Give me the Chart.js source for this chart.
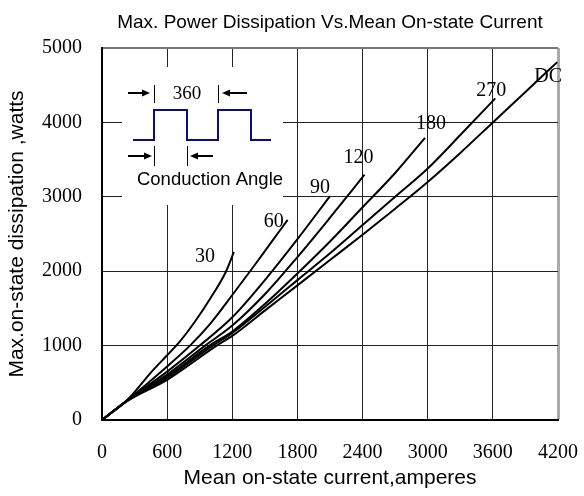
<!DOCTYPE html>
<html>
<head>
<meta charset="utf-8">
<script src="https://cdn.jsdelivr.net/npm/chart.js@4.4.0/dist/chart.umd.min.js"></script>
<style>
    html, body { margin: 0; padding: 0; background: #fff; }
</style>
</head>
<body>
<canvas id="powerChart" width="584" height="496"></canvas>
<script>
// 標題與座標軸文字
const chartTitle = 'Max. Power Dissipation Vs.Mean On-state Current';
const xTitle = 'Mean on-state current,amperes';
const yTitle = 'Max.on-state dissipation ,watts';

// 刻度
const xTicks = [0, 600, 1200, 1800, 2400, 3000, 3600, 4200];
const yTicks = [0, 1000, 2000, 3000, 4000, 5000];

// 各導通角的曲線 (電流 A, 功率 W)
const curveNames = ['30', '60', '90', '120', '180', '270', 'DC'];
const current30 = [0, 230, 470, 600, 720, 860, 1000, 1140, 1215];
const power30 = [0, 265, 670, 870, 1060, 1330, 1640, 1990, 2260];
const current60 = [0, 230, 600, 810, 1000, 1200, 1400, 1550, 1710];
const power60 = [0, 262, 720, 1000, 1300, 1680, 2070, 2370, 2690];
const current90 = [0, 230, 600, 900, 1200, 1500, 1800, 2100];
const power90 = [0, 260, 650, 1000, 1380, 1880, 2430, 3010];
const current120 = [0, 230, 600, 950, 1200, 1500, 1800, 2100, 2418];
const power120 = [0, 258, 610, 1000, 1270, 1690, 2190, 2720, 3297];
const current180 = [0, 230, 600, 990, 1200, 1500, 1800, 2100, 2400, 2700, 2975];
const power180 = [0, 256, 585, 1000, 1190, 1560, 1970, 2400, 2860, 3320, 3792];
const current270 = [0, 230, 600, 1020, 1200, 1500, 1800, 2100, 2400, 2700, 3000, 3300, 3622];
const power270 = [0, 255, 565, 1000, 1170, 1520, 1880, 2240, 2620, 3000, 3380, 3830, 4323];
const currentDC = [0, 230, 600, 1056, 1200, 1500, 1800, 2100, 2400, 2700, 3000, 3300, 3600, 3900, 4193];
const powerDC = [0, 254, 540, 1000, 1130, 1470, 1810, 2150, 2490, 2840, 3200, 3590, 4000, 4410, 4810];

const currents = [current30, current60, current90, current120, current180, current270, currentDC];
const powers = [power30, power60, power90, power120, power180, power270, powerDC];

// 曲線標籤相對終點的位移 (px)
const labelOffsets = [[-29, 5], [-14, 2], [-10, -8], [-6, -17], [6, -14], [-4, -8], [-9, 15]];

const serif = '"Liberation Serif", "Times New Roman", serif';
const sans = '"Liberation Sans", Arial, sans-serif';

function arrow(ctx, x1, y, x2) {
    const dir = x2 > x1 ? 1 : -1;
    ctx.beginPath();
    ctx.moveTo(x1, y);
    ctx.lineTo(x2 - dir * 6, y);
    ctx.stroke();
    ctx.beginPath();
    ctx.moveTo(x2, y);
    ctx.lineTo(x2 - dir * 8, y - 3.5);
    ctx.lineTo(x2 - dir * 8, y + 3.5);
    ctx.closePath();
    ctx.fill();
}

// 插圖、曲線標籤與標題
const decorPlugin = {
    id: 'decor',
    beforeDatasetsDraw(chart) {
        const { ctx, chartArea: a } = chart;
        const L = a.left, T = a.top;
        ctx.save();
        ctx.fillStyle = '#fff';
        ctx.fillRect(L + 20, T + 19, 161, 138);

        // 方波
        ctx.strokeStyle = '#0a0a8c';
        ctx.lineWidth = 2;
        ctx.beginPath();
        ctx.moveTo(L + 31, T + 92);
        ctx.lineTo(L + 52, T + 92);
        ctx.lineTo(L + 52, T + 62);
        ctx.lineTo(L + 85, T + 62);
        ctx.lineTo(L + 85, T + 92);
        ctx.lineTo(L + 116, T + 92);
        ctx.lineTo(L + 116, T + 62);
        ctx.lineTo(L + 149, T + 62);
        ctx.lineTo(L + 149, T + 92);
        ctx.lineTo(L + 169, T + 92);
        ctx.stroke();

        // 標記線與箭頭
        ctx.strokeStyle = '#000';
        ctx.fillStyle = '#000';
        ctx.lineWidth = 1;
        [[52, 37, 55], [116, 37, 55], [52, 98, 118], [85, 98, 118]].forEach(([x, y1, y2]) => {
            ctx.beginPath();
            ctx.moveTo(L + x + 0.5, T + y1);
            ctx.lineTo(L + x + 0.5, T + y2);
            ctx.stroke();
        });
        ctx.lineWidth = 2;
        arrow(ctx, L + 26, T + 45, L + 48);
        arrow(ctx, L + 145, T + 45, L + 120);
        arrow(ctx, L + 26, T + 108, L + 50);
        arrow(ctx, L + 111, T + 108, L + 88);

        ctx.textAlign = 'center';
        ctx.textBaseline = 'middle';
        ctx.font = '19px ' + serif;
        ctx.fillText('360', L + 85, T + 46);
        ctx.font = '18.5px ' + sans;
        ctx.fillText('Conduction Angle', L + 108, T + 132);
        ctx.restore();
    },
    afterDatasetsDraw(chart) {
        const ctx = chart.ctx;
        ctx.save();
        ctx.fillStyle = '#000';
        ctx.font = '20px ' + serif;
        ctx.textAlign = 'center';
        ctx.textBaseline = 'middle';
        curveNames.forEach((name, i) => {
            const pts = chart.getDatasetMeta(i).data;
            const last = pts[pts.length - 1];
            ctx.fillText(name, last.x + labelOffsets[i][0], last.y + labelOffsets[i][1]);
        });
        ctx.font = '19px ' + sans;
        const a = chart.chartArea;
        ctx.fillText(chartTitle, (a.left + a.right) / 2, 23);
        ctx.restore();
    }
};

const datasets = curveNames.map((name, i) => ({
    label: name,
    data: currents[i].map((x, j) => ({ x: x, y: powers[i][j] })),
    borderColor: '#000',
    borderWidth: 2,
    pointRadius: 0,
    fill: false,
    cubicInterpolationMode: 'monotone'
}));

const ctx = document.getElementById('powerChart').getContext('2d');
new Chart(ctx, {
    type: 'line',
    data: { datasets: datasets },
    options: {
        responsive: false,
        animation: false,
        layout: { padding: { top: 48, right: 26, left: 0, bottom: 0 } },
        plugins: {
            legend: { display: false },
            tooltip: { enabled: false },
            title: { display: false }
        },
        scales: {
            x: {
                type: 'linear',
                min: 0,
                max: 4200,
                afterBuildTicks: axis => { axis.ticks = xTicks.map(v => ({ value: v })); },
                afterFit: axis => {
                    axis.height = 76;
                    axis.paddingLeft = 0;
                    axis.paddingRight = 0;
                },
                ticks: {
                    color: '#000',
                    font: { family: serif, size: 20 },
                    padding: 21,
                    maxRotation: 0,
                    callback: v => String(v)
                },
                grid: {
                    drawTicks: false,
                    color: c => (c.tick && c.tick.value === 4200) ? '#aaa' : '#222',
                    lineWidth: c => (c.tick && c.tick.value === 4200) ? 3 : 1
                },
                border: { display: true, color: '#000', width: 2 },
                title: {
                    display: true,
                    text: xTitle,
                    color: '#000',
                    font: { family: sans, size: 21 },
                    padding: { top: 0, bottom: 5 }
                }
            },
            y: {
                type: 'linear',
                min: 0,
                max: 5000,
                afterBuildTicks: axis => { axis.ticks = yTicks.map(v => ({ value: v })); },
                afterFit: axis => {
                    axis.width = 102;
                    axis.paddingTop = 0;
                    axis.paddingBottom = 0;
                },
                ticks: {
                    color: '#000',
                    font: { family: serif, size: 20 },
                    padding: 20,
                    callback: v => String(v)
                },
                grid: {
                    drawTicks: false,
                    color: c => (c.tick && c.tick.value === 5000) ? '#777' : '#222',
                    lineWidth: c => (c.tick && c.tick.value === 5000) ? 2 : 1
                },
                border: { display: true, color: '#000', width: 2 },
                title: {
                    display: true,
                    text: yTitle,
                    color: '#000',
                    font: { family: sans, size: 21 },
                    padding: { top: 5, bottom: 0 }
                }
            }
        }
    },
    plugins: [decorPlugin]
});
</script>
</body>
</html>
